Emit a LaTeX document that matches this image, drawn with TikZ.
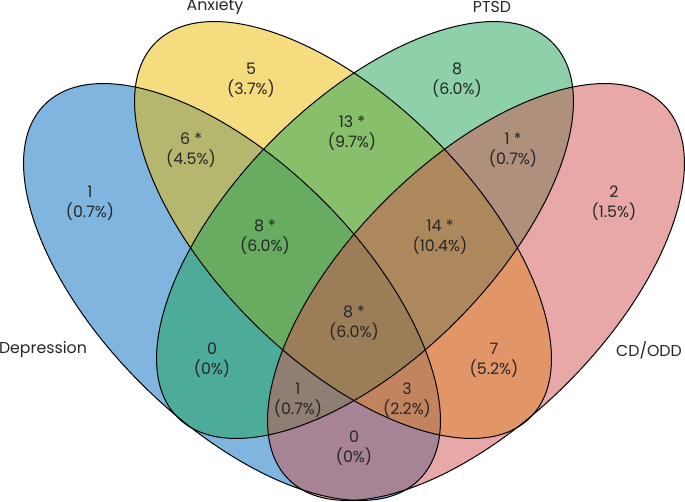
\documentclass[tikz,border=0pt]{standalone}
\usepackage{fontspec}
\setmainfont{Poppins}
\definecolor{depcol}{RGB}{0,108,190}
\definecolor{anxcol}{RGB}{236,186,0}
\definecolor{ptsdcol}{RGB}{28,162,86}
\definecolor{cdcol}{RGB}{208,82,80}
\begin{document}
\begin{tikzpicture}[x=1pt,y=1pt,line width=1pt,
    count/.style={align=center,inner sep=0pt,text=black!85,font=\fontsize{15.8}{20}\selectfont},
    setname/.style={inner sep=0pt,text=black!85,font=\fontsize{15.8}{18}\selectfont}]
\useasboundingbox (0,0) rectangle (685,501);

% the four sets, filled first, then outlined
\foreach \cx/\cy/\ang/\col in {232/209/-45/depcol, 343/271/-45/anxcol, 365/271/45/ptsdcol, 476/209/45/cdcol}
  \fill[\col, fill opacity=0.5, rotate around={\ang:(\cx,\cy)}] (\cx,\cy) ellipse [x radius=265, y radius=129];
\foreach \cx/\cy/\ang in {232/209/-45, 343/271/-45, 365/271/45, 476/209/45}
  \draw[rotate around={\ang:(\cx,\cy)}] (\cx,\cy) ellipse [x radius=265, y radius=129];

\node[setname] (dep)  at (43,151)  {Depression};
\node[setname] (anx)  at (215,494) {Anxiety};
\node[setname] (ptsd) at (492,494) {PTSD};
\node[setname] (cd)   at (649,151) {CD/ODD};

\node[count] (d)    at (90,298)  {1\\(0.7\%)};
\node[count] (a)    at (251,421) {5\\(3.7\%)};
\node[count] (p)    at (457,421) {8\\(6.0\%)};
\node[count] (c)    at (614,298) {2\\(1.5\%)};
\node[count] (da)   at (191,351) {6 *\\(4.5\%)};
\node[count] (ap)   at (352,368) {13 *\\(9.7\%)};
\node[count] (pc)   at (513,351) {1 *\\(0.7\%)};
\node[count] (dap)  at (265,264) {8 *\\(6.0\%)};
\node[count] (apc)  at (440,264) {14 *\\(10.4\%)};
\node[count] (dapc) at (354,178) {8 *\\(6.0\%)};
\node[count] (dp)   at (212,141) {0\\(0\%)};
\node[count] (ac)   at (494,141) {7\\(5.2\%)};
\node[count] (dpc)  at (298,101) {1\\(0.7\%)};
\node[count] (dac)  at (407,101) {3\\(2.2\%)};
\node[count] (dc)   at (354,53)  {0\\(0\%)};
\end{tikzpicture}
\end{document}
